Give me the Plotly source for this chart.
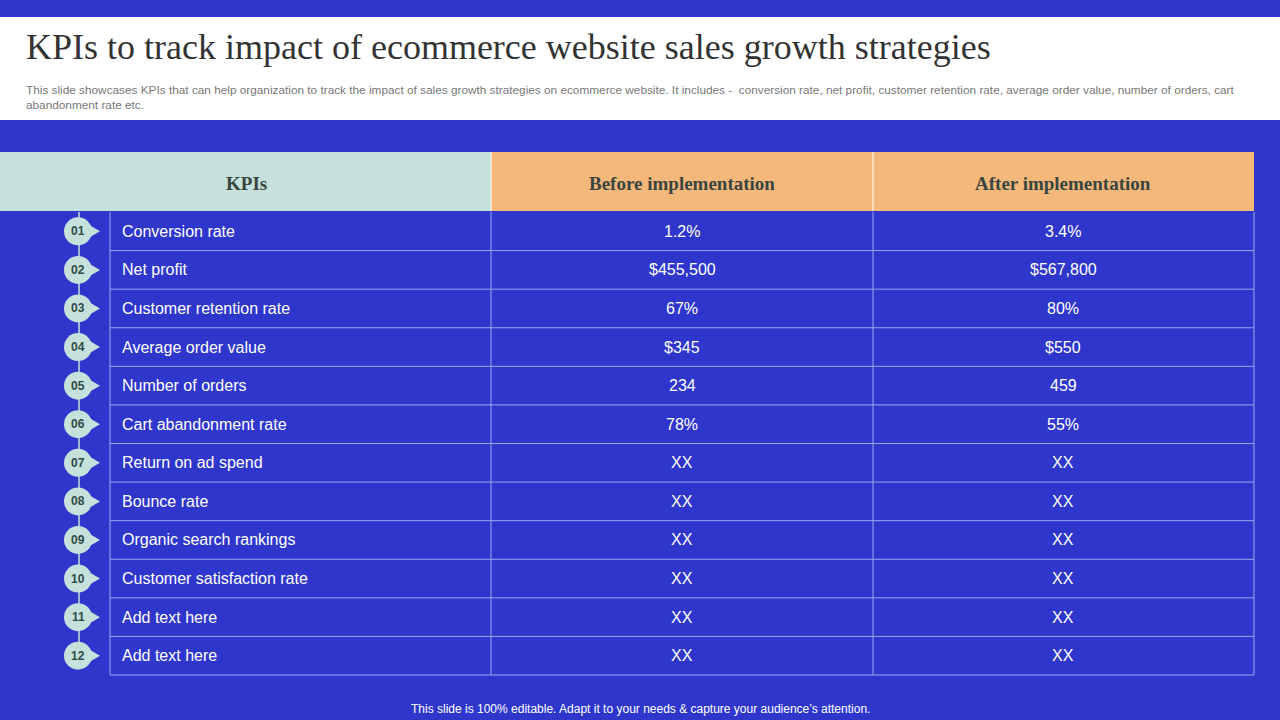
import plotly.graph_objects as go

kpis = ["Conversion rate","Net profit","Customer retention rate","Average order value","Number of orders",
        "Cart abandonment rate","Return on ad spend","Bounce rate","Organic search rankings",
        "Customer satisfaction rate","Add text here","Add text here"]
before = ["1.2%","$455,500","67%","$345","234","78%","XX","XX","XX","XX","XX","XX"]
after = ["3.4%","$567,800","80%","$550","459","55%","XX","XX","XX","XX","XX","XX"]
headers = ["KPIs","Before implementation","After implementation"]

BLUE = "#2F36CC"; MINT = "#C6E1DC"; ORANGE = "#F5B87B"; LINE = "#9FA6EE"
fig = go.Figure()
shapes = []; ann = []
def rect(x0,y0,x1,y1,fill,line=None):
    shapes.append(dict(type="rect",x0=x0,y0=y0,x1=x1,y1=y1,fillcolor=fill,
                       line=dict(width=1 if line else 0,color=line or fill),layer="below"))
rect(0,17,1280,120,"white")
rect(0,152,491,211,MINT)
rect(491,152,873,211,ORANGE)
rect(873,152,1254,211,ORANGE)
shapes.append(dict(type="line",x0=873,x1=873,y0=152,y1=211,line=dict(color="white",width=1)))
shapes.append(dict(type="line",x0=491,x1=491,y0=152,y1=211,line=dict(color="white",width=1)))
ann.append(dict(x=24,y=47,text="KPIs to track impact of ecommerce website sales growth strategies",xanchor="left",
                font=dict(family="Liberation Serif",size=36,color="#333333")))
ann.append(dict(x=24,y=97,text="This slide showcases KPIs that can help organization to track the impact of sales growth strategies on ecommerce website. It includes -  conversion rate, net profit, customer retention rate, average order value, number of orders, cart<br>abandonment rate etc.",
                xanchor="left",align="left",font=dict(family="Liberation Sans",size=11.8,color="#777777")))
for h,cx in zip(headers,[246,682,1063]):
    ann.append(dict(x=cx,y=183,text="<b>"+h+"</b>",font=dict(family="Liberation Serif",size=19,color="#3A4540")))
top=212; rh=(675-212)/12
shapes.append(dict(type="line",x0=79,x1=79,y0=212,y1=660,line=dict(color=MINT,width=1.5)))
for i in range(12):
    y0=top+i*rh; y1=y0+rh; cy=(y0+y1)/2
    shapes.append(dict(type="line",x0=110,x1=1254,y0=y1,y1=y1,line=dict(color=LINE,width=1)))
    shapes.append(dict(type="path",path=f"M 88 {cy-7} L 100 {cy} L 88 {cy+7} Z",fillcolor=MINT,line=dict(width=0)))
    shapes.append(dict(type="circle",x0=64,x1=92,y0=cy-14,y1=cy+14,fillcolor=MINT,line=dict(width=0)))
    ann.append(dict(x=78,y=cy,text=f"<b>{i+1:02d}</b>",font=dict(family="Liberation Sans",size=12,color="#2F4A48")))
    ann.append(dict(x=120,y=cy,text=kpis[i],xanchor="left",font=dict(family="Liberation Sans",size=16,color="white")))
    ann.append(dict(x=682,y=cy,text=before[i],font=dict(family="Liberation Sans",size=16,color="white")))
    ann.append(dict(x=1063,y=cy,text=after[i],font=dict(family="Liberation Sans",size=16,color="white")))
for x in [110,491,873,1254]:
    shapes.append(dict(type="line",x0=x,x1=x,y0=212,y1=675,line=dict(color=LINE,width=1)))
ann.append(dict(x=640,y=709,text="This slide is 100% editable. Adapt it to your needs & capture your audience’s attention.",
                font=dict(family="Liberation Sans",size=12,color="white")))
for a in ann:
    a.update(xref="x",yref="y",showarrow=False)
fig.update_layout(width=1280,height=720,margin=dict(l=0,r=0,t=0,b=0),paper_bgcolor=BLUE,plot_bgcolor=BLUE,
                  shapes=shapes,annotations=ann,showlegend=False,
                  xaxis=dict(range=[0,1280],visible=False,fixedrange=True),
                  yaxis=dict(range=[720,0],visible=False,fixedrange=True))
fig.write_html("out.html",config={"displayModeBar":False},
               post_script="document.body.style.margin='0';document.body.style.overflow='hidden';")
